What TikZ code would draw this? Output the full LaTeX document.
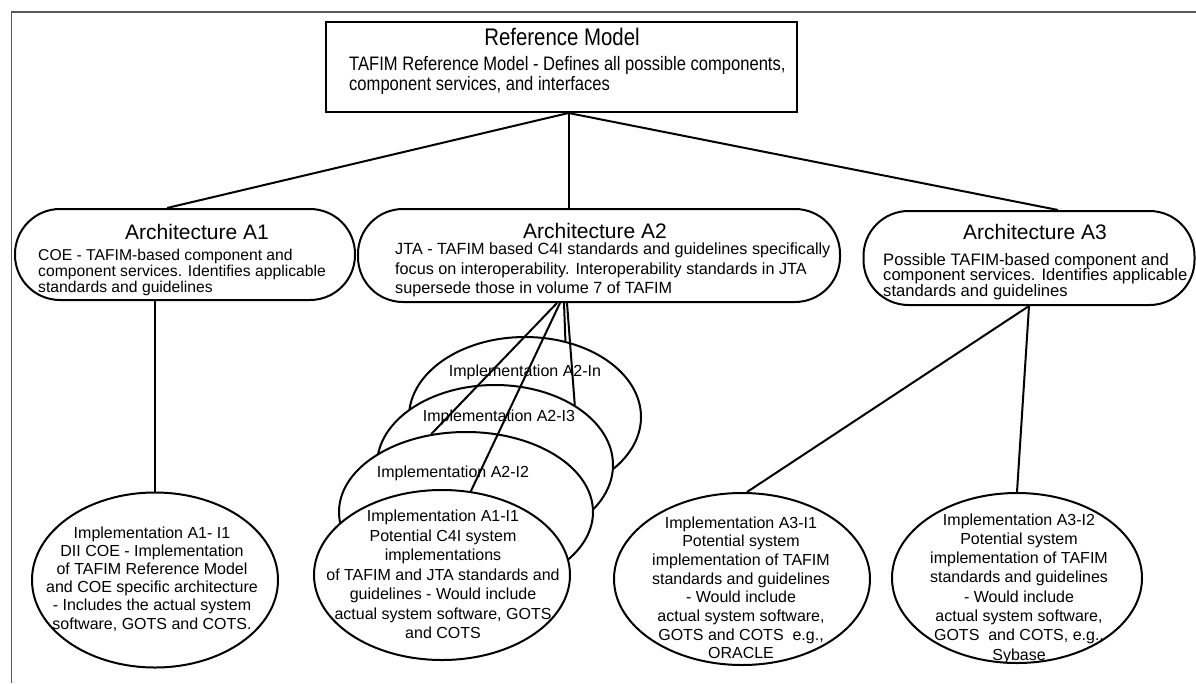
\documentclass[tikz,border=0pt]{standalone}
\usepackage{fontspec}
\usepackage{graphicx}
\setmainfont{Liberation Sans}
\usetikzlibrary{shapes.geometric,calc}
\begin{document}
\begin{tikzpicture}[x=1pt,y=-1pt,
  conn/.style={line width=2pt, black},
  abox/.style={draw, line width=2pt, rounded corners=45pt, fill=white, inner sep=0pt},
  ell/.style={draw, ellipse, line width=2pt, fill=white, inner sep=0pt},
  txt/.style={inner sep=0pt, font=\fontsize{16}{19}\selectfont},
  body/.style={inner sep=0pt, align=center, anchor=north},
  ttl/.style={inner sep=0pt, font=\fontsize{21}{21}\selectfont},
  frame/.style={gray!70!black},
]
\useasboundingbox (0,0) rectangle (1196,683);
% frame lines
\coordinate (fa) at (11,12);
\coordinate (fb) at (1196,12);
\coordinate (fc) at (11,683);
\draw[frame, line width=2pt] (fa) -- (fb);
\draw[frame, line width=1pt] (fa) -- (fc);

% top box
\node[draw, line width=2pt, minimum width=471pt, minimum height=90pt, inner sep=0pt] (top) at (561.5,67) {};
\node[inner sep=0pt, font=\fontsize{24}{24}\selectfont] (toptitle) at (562,37) {\scalebox{0.85}[1]{Reference Model}};
\node[inner sep=0pt, anchor=north west, align=left, font=\fontsize{19.5}{20.5}\selectfont] (topbody) at (349,56)
  {\scalebox{0.85}[1]{TAFIM Reference Model - Defines all possible components,}\\
   \scalebox{0.85}[1]{component services, and interfaces}};

% architecture boxes
\node[abox, minimum width=340pt, minimum height=91pt] (a1) at (185,254.5) {};
\node[abox, minimum width=482pt, minimum height=93pt] (a2) at (599,255.5) {};
\node[abox, minimum width=331pt, minimum height=94pt] (a3) at (1029,258) {};

\node[ttl] (a1t) at (197,232) {Architecture A1};
\node[inner sep=0pt, anchor=north west, align=left, font=\fontsize{15.7}{16}\selectfont] (a1b) at (38,249.3)
  {COE - TAFIM-based component and\\component services. Identifies applicable\\standards and guidelines};

\node[ttl] (a2t) at (595,231) {Architecture A2};
\node[inner sep=0pt, anchor=north west, align=left, font=\fontsize{16.2}{19.5}\selectfont] (a2b) at (395,243)
  {JTA - TAFIM based C4I standards and guidelines specifically\\focus on interoperability. Interoperability standards in JTA\\supersede those in volume 7 of TAFIM};

\node[ttl] (a3t) at (1035,232) {Architecture A3};
\node[inner sep=0pt, anchor=north west, align=left, font=\fontsize{16.6}{15.5}\selectfont] (a3b) at (883,253)
  {Possible TAFIM-based component and\\component services. Identifies applicable\\standards and guidelines};

% connectors from reference model
\coordinate (j) at ([xshift=7pt]top.south);
\draw[conn] (j) -- ([xshift=-18pt]a1.north);
\draw[conn] (j) -- (a2.north -| j);
\draw[conn] (j) -- ([xshift=29pt]a3.north);

% A1 implementation
\node[ell, minimum width=246pt, minimum height=175pt] (a1i1) at (155,580) {};
\node[body, font=\fontsize{16}{18.2}\selectfont] (a1i1t) at (152,526.2)
  {Implementation A1- I1\\DII COE - Implementation\\of TAFIM Reference Model\\and COE specific architecture\\- Includes the actual system\\software, GOTS and COTS.};
\draw[conn] (a1.south -| a1i1.north) -- (a1i1.north);

% A2 implementation stack
\node[ell, minimum width=232pt, minimum height=160pt] (in) at (525,417) {};
\node[txt] (lin) at (525,372) {Implementation A2-In};
\node[ell, minimum width=236pt, minimum height=160pt] (i3) at (495,465) {};
\node[txt] (li3) at (499,417) {Implementation A2-I3};
\node[ell, minimum width=254pt, minimum height=160pt] (i2) at (466,512) {};
\node[txt] (li2) at (453,473) {Implementation A2-I2};
\node[ell, minimum width=256pt, minimum height=170pt] (i1) at (442,575) {};
\node[body, font=\fontsize{16}{19.5}\selectfont] (i1t) at (443,510)
  {Implementation A1-I1\\Potential C4I system\\implementations\\of TAFIM and JTA standards and\\guidelines - Would include\\actual system software, GOTS\\and COTS};

\draw[conn] ([xshift=-42pt]a2.south) -- (i2.114);
\draw[conn] ([xshift=-39pt]a2.south) -- (i1.71);
\draw[conn] ([xshift=-35pt]a2.south) -- (in.62);
\draw[conn] ([xshift=-32pt]a2.south) -- (i3.37);

% A3 implementations
\node[ell, minimum width=256pt, minimum height=172pt] (a3i1) at (742,579) {};
\node[body, font=\fontsize{16}{18.7}\selectfont] (a3i1t) at (741,516.2)
  {Implementation A3-I1\\Potential system\\implementation of TAFIM\\standards and guidelines\\- Would include\\actual system software,\\GOTS and COTS\ \ e.g.,\\ORACLE};
\node[ell, minimum width=250pt, minimum height=170pt] (a3i2) at (1017,578) {};
\node[body, font=\fontsize{16}{19.3}\selectfont] (a3i2t) at (1019,513.2)
  {Implementation A3-I2\\Potential system\\implementation of TAFIM\\standards and guidelines\\- Would include\\actual system software,\\GOTS\ \ and COTS, e.g.,\\Sybase};

\draw[conn] (a3.south) -- ([xshift=5pt]a3i1.north);
\draw[conn] (a3.south) -- (a3i2.north);
\end{tikzpicture}
\end{document}
